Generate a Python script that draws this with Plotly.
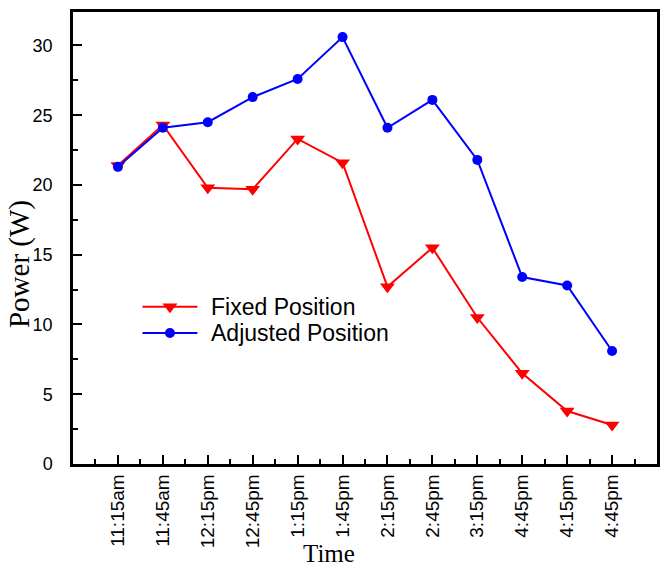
import plotly.graph_objects as go

# Sampling times along the x axis
times = ["11:15am", "11:45am", "12:15pm", "12:45pm", "1:15pm", "1:45pm",
         "2:15pm", "2:45pm", "3:15pm", "4:45pm", "4:15pm", "4:45pm"]

# Measured output power (W)
fixed_power = [21.4, 24.3, 19.8, 19.7, 23.3, 21.6, 12.7, 15.5, 10.5, 6.5, 3.8, 2.8]
adjusted_power = [21.3, 24.1, 24.5, 26.3, 27.6, 30.6, 24.1, 26.1, 21.8, 13.4, 12.8, 8.1]

series_names = ["Fixed Position", "Adjusted Position"]
RED = "#ff0000"
BLUE = "#0000ff"

idx = list(range(len(times)))

fig = go.Figure()
fig.add_trace(go.Scatter(
    x=idx, y=fixed_power, mode="lines+markers", name=series_names[0],
    line=dict(color=RED, width=2),
    marker=dict(symbol="triangle-down", size=13, color=RED),
    showlegend=False,
))
fig.add_trace(go.Scatter(
    x=idx, y=adjusted_power, mode="lines+markers", name=series_names[1],
    line=dict(color=BLUE, width=2),
    marker=dict(symbol="circle", size=10, color=BLUE),
    showlegend=False,
))

# Legend drawn on an overlay axis pair spanning the plot in [0, 1] units
leg_x0, leg_x1 = 0.119, 0.213
leg_rows = [(0.348, RED, "triangle-down", 13, series_names[0]),
            (0.290, BLUE, "circle", 10, series_names[1])]
for y, col, sym, sz, label in leg_rows:
    fig.add_trace(go.Scatter(
        x=[leg_x0, leg_x1], y=[y, y], mode="lines", xaxis="x2", yaxis="y2",
        line=dict(color=col, width=2), showlegend=False, hoverinfo="skip"))
    fig.add_trace(go.Scatter(
        x=[(leg_x0 + leg_x1) / 2], y=[y], mode="markers", xaxis="x2", yaxis="y2",
        marker=dict(symbol=sym, size=sz, color=col), showlegend=False,
        hoverinfo="skip"))
    fig.add_annotation(x=leg_x1 + 0.02, y=y, xref="x2", yref="y2", text=label,
                       showarrow=False, xanchor="left", yanchor="middle",
                       font=dict(family="Liberation Sans, Arial", size=23,
                                 color="black"))

fig.update_layout(
    width=662, height=569,
    margin=dict(l=73, r=2, t=12, b=105),
    plot_bgcolor="white", paper_bgcolor="white",
    font=dict(family="Liberation Sans, Arial", color="black"),
    xaxis=dict(
        range=[-1, 12], tickmode="array", tickvals=idx, ticktext=times,
        tickangle=-90, ticks="inside", ticklen=9, tickwidth=2,
        tickcolor="black", showline=True, linewidth=2.5, linecolor="black",
        mirror=True, showgrid=False, zeroline=False,
        tickfont=dict(size=19, family="Liberation Sans, Arial"),
        minor=dict(tickvals=[i - 0.5 for i in range(len(times) + 1)],
                   ticks="inside", ticklen=5, tickwidth=2, tickcolor="black",
                   showgrid=False),
    ),
    yaxis=dict(
        range=[0, 32.4], tickmode="linear", tick0=0, dtick=5,
        ticks="inside", ticklen=9, tickwidth=2, tickcolor="black",
        showline=True, linewidth=2.5, linecolor="black", mirror=True,
        showgrid=False, zeroline=False, ticklabelstandoff=14,
        tickfont=dict(size=18, family="Liberation Sans, Arial"),
        minor=dict(dtick=2.5, tick0=0, ticks="inside", ticklen=5,
                   tickwidth=2, tickcolor="black", showgrid=False),
    ),
    xaxis2=dict(range=[0, 1], overlaying="x", visible=False, fixedrange=True),
    yaxis2=dict(range=[0, 1], overlaying="y", visible=False, fixedrange=True),
)

# Axis titles
fig.add_annotation(text="Time", xref="paper", yref="paper", x=0.438, y=-0.197,
                   xanchor="center", yanchor="middle", showarrow=False,
                   font=dict(family="Liberation Serif, Times New Roman",
                             size=25, color="black"))
fig.add_annotation(text="Power (W)", xref="paper", yref="paper", x=-0.092,
                   y=0.443, xanchor="center", yanchor="middle", showarrow=False,
                   textangle=-90,
                   font=dict(family="Liberation Serif, Times New Roman",
                             size=29, color="black"))

fig.write_html("out.html")
